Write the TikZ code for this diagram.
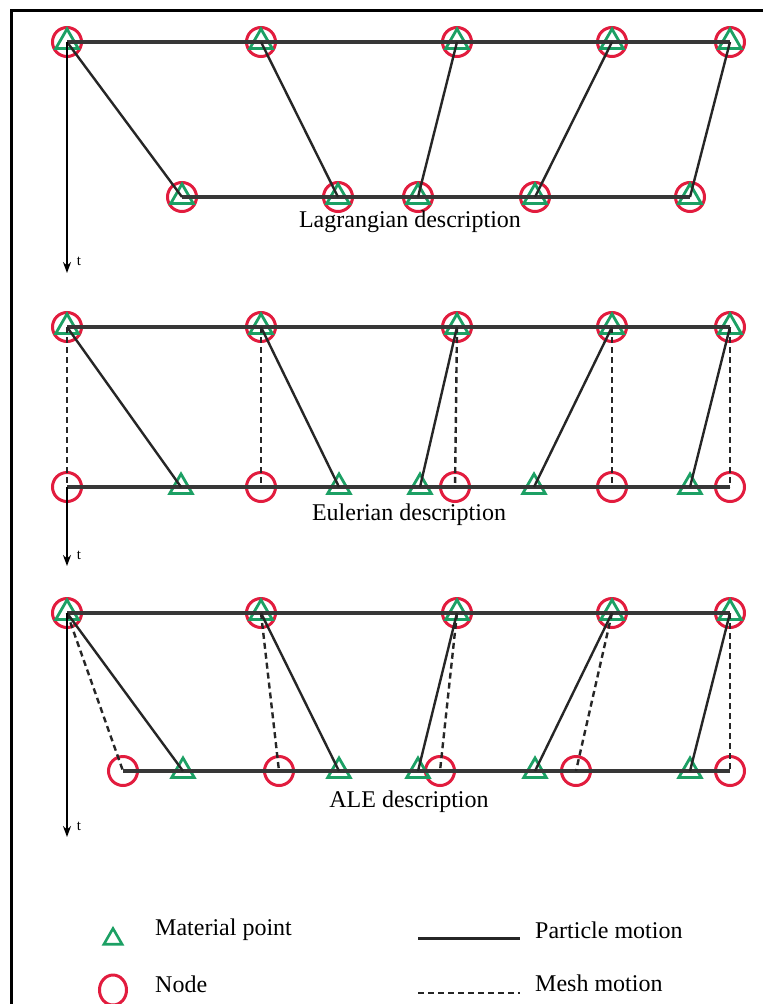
\documentclass[tikz,border=0pt]{standalone}
\usepackage{fontspec}
\setmainfont{Liberation Serif}
\usetikzlibrary{shapes.geometric,arrows.meta}
\definecolor{nred}{RGB}{226,28,62}
\definecolor{mgreen}{RGB}{28,160,100}
\definecolor{lgray}{RGB}{55,55,55}
\begin{document}
\begin{tikzpicture}[x=1pt,y=-1pt,
  nodec/.style={circle,draw=nred,line width=3pt,minimum size=29pt,inner sep=0pt},
  matp/.style={regular polygon,regular polygon sides=3,draw=mgreen,line width=2.8pt,minimum size=26pt,inner sep=0pt},
  rowline/.style={draw=lgray,line width=3.6pt},
  partline/.style={draw=black!85,line width=2.4pt},
  meshline/.style={draw=black!85,line width=2.4pt,dash pattern=on 6pt off 4pt},
  tarrow/.style={draw=black,line width=2.2pt,-{Stealth[length=11pt,width=8pt]}},
  lbl/.style={font=\fontsize{24}{27}\selectfont,inner sep=0pt},
  tlbl/.style={font=\fontsize{15}{17}\selectfont,inner sep=0pt},
  frameline/.style={draw=black,line width=3pt}]
\useasboundingbox (0,0) rectangle (763,1004);
\fill[white] (0,0) rectangle (763,1004);
\draw[frameline] (11,1004) -- (11,10) -- (763,10);

% ---------- Lagrangian ----------
\foreach \i/\x in {1/67,2/261,3/457,4/612,5/730}{
  \node[nodec] (LTc\i) at (\x,42) {};
  \node[matp]  (LTm\i) at (\x,42) {};
}
\foreach \i/\x in {1/182,2/338,3/418,4/535,5/690}{
  \node[nodec] (LBc\i) at (\x,197) {};
  \node[matp]  (LBm\i) at (\x,197) {};
}
\draw[rowline] (LTc1.center) -- (LTc5.center);
\draw[rowline] (LBc1.center) -- (LBc5.center);
\foreach \i in {1,...,5}{\draw[partline] (LTm\i.center) -- (LBm\i.center);}
\coordinate (Lt) at (67,273);
\draw[tarrow] (LTc1.center) -- (Lt);
\node[tlbl] (Ltl) at (79,261) {t};
\node[lbl] (Llab) at (410,222) {Lagrangian description};

% ---------- Eulerian ----------
\foreach \i/\x in {1/67,2/261,3/457,4/612,5/730}{
  \node[nodec] (ETc\i) at (\x,327) {};
  \node[matp]  (ETm\i) at (\x,327) {};
}
\foreach \i/\x in {1/67,2/261,3/455,4/612,5/730}{
  \node[nodec] (EBc\i) at (\x,487) {};
}
\foreach \i/\x in {1/181,2/339,3/420,4/534,5/690}{
  \node[matp]  (EBm\i) at (\x,487) {};
}
\draw[rowline] (ETc1.center) -- (ETc5.center);
\draw[rowline] (EBc1.center) -- (EBc5.center);
\foreach \i in {1,...,5}{
  \draw[partline] (ETm\i.center) -- (EBm\i.center);
  \draw[meshline] (ETc\i.center) -- (EBc\i.center);
}
\coordinate (Et) at (67,566);
\draw[tarrow] (EBc1.center) -- (Et);
\node[tlbl] (Etl) at (79,555) {t};
\node[lbl] (Elab) at (409,515) {Eulerian description};

% ---------- ALE ----------
\foreach \i/\x in {1/67,2/261,3/457,4/612,5/730}{
  \node[nodec] (ATc\i) at (\x,613) {};
  \node[matp]  (ATm\i) at (\x,613) {};
}
\foreach \i/\x in {1/123,2/279,3/440,4/576,5/730}{
  \node[nodec] (ABc\i) at (\x,771) {};
}
\foreach \i/\x in {1/183,2/339,3/418,4/535,5/690}{
  \node[matp]  (ABm\i) at (\x,771) {};
}
\draw[rowline] (ATc1.center) -- (ATc5.center);
\draw[rowline] (ABc1.center) -- (ABc5.center);
\foreach \i in {1,...,5}{
  \draw[partline] (ATm\i.center) -- (ABm\i.center);
  \draw[meshline] (ATc\i.center) -- (ABc\i.center);
}
\coordinate (At) at (67,837);
\draw[tarrow] (ATc1.center) -- (At);
\node[tlbl] (Atl) at (79,826) {t};
\node[lbl] (Alab) at (409,802) {ALE description};

% ---------- Legend ----------
\node[matp,minimum size=21pt,line width=2.6pt] (legm) at (113,939) {};
\node[nodec,minimum width=27pt,minimum height=30pt,ellipse] (legc) at (113,990) {};
\node[lbl,anchor=west] (legmt) at (155,930) {Material point};
\node[lbl,anchor=west] (legct) at (155,984) {Node};
\coordinate (pa) at (418,938);
\coordinate (pb) at (520,938);
\draw[partline,line width=3pt] (pa) -- (pb);
\coordinate (ma) at (418,993);
\coordinate (mb) at (520,993);
\draw[meshline,line width=2.8pt] (ma) -- (mb);
\node[lbl,anchor=west] (legpt) at (535,930) {Particle motion};
\node[lbl,anchor=west] (legmt2) at (535,983) {Mesh motion};
\end{tikzpicture}
\end{document}
